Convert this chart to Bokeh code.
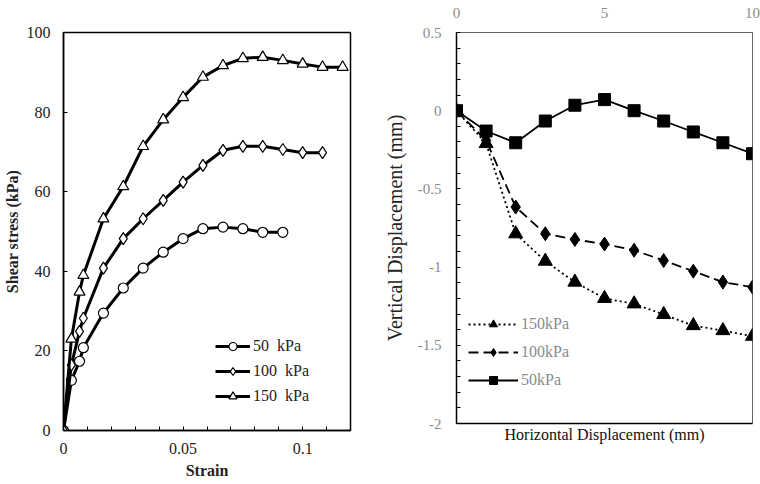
from bokeh.plotting import figure
from bokeh.layouts import row, column
from bokeh.models import (Range1d, FixedTicker, CustomJSTickFormatter, Legend,
                          LegendItem, LinearAxis)
from bokeh.embed import file_html
from bokeh.resources import INLINE

# ---------------- data: left chart (shear stress vs strain) ----------------
strain = [0, 0.0033, 0.0067, 0.0083, 0.0167, 0.025, 0.0333, 0.0417, 0.05,
          0.0583, 0.0667, 0.075, 0.0833, 0.0917, 0.1, 0.1083, 0.1167]
stress_150 = [0, 23.0, 34.8, 39.0, 53.2, 61.3, 71.4, 78.1, 83.7, 88.8, 91.7,
              93.5, 93.8, 93.0, 92.1, 91.3, 91.3]
stress_100 = [0, 16.5, 24.9, 28.2, 40.8, 48.2, 53.2, 57.8, 62.4, 66.6, 70.4,
              71.4, 71.4, 70.6, 69.8, 69.8]
stress_50 = [0, 12.6, 17.4, 20.8, 29.5, 35.8, 40.8, 44.8, 48.2, 50.7, 51.1,
             50.7, 49.8, 49.8]
left_labels = ["50  kPa", "100  kPa", "150  kPa"]
strain_ticks = [0, 0.05, 0.1]
strain_minor = [0.01, 0.02, 0.03, 0.04, 0.06, 0.07, 0.08, 0.09, 0.11]
stress_ticks = [0, 20, 40, 60, 80, 100]

# ---------------- data: right chart (vertical vs horizontal displacement) ----
hdisp = [0, 1, 2, 3, 4, 5, 6, 7, 8, 9, 10]
vd_50 = [0, -0.13, -0.205, -0.066, 0.035, 0.071, 0.0, -0.066, -0.136, -0.205, -0.275]
vd_100 = [0, -0.19, -0.616, -0.787, -0.823, -0.853, -0.892, -0.958, -1.026, -1.096, -1.128]
vd_150 = [0, -0.21, -0.787, -0.962, -1.096, -1.2, -1.235, -1.303, -1.374, -1.406, -1.442]
right_labels = ["150kPa", "100kPa", "50kPa"]
h_ticks = [0, 5, 10]
v_ticks = [0.5, 0, -0.5, -1, -1.5, -2]
v_minor = [0.4, 0.3, 0.2, 0.1, -0.1, -0.2, -0.3, -0.4, -0.6, -0.7, -0.8, -0.9,
           -1.1, -1.2, -1.3, -1.4, -1.6, -1.7, -1.8, -1.9]

FONT = "Liberation Serif"
GREY = "#8a8a8a"
H = 482
fmt = CustomJSTickFormatter(code="return String(Math.round(tick*1000)/1000);")

# ================= left figure =================
p1 = figure(width=380, height=H, output_backend="svg", toolbar_location=None,
            x_range=Range1d(0, 0.12), y_range=Range1d(0, 100),
            min_border_left=63, min_border_right=30, min_border_top=32,
            min_border_bottom=52)
p1.grid.visible = False
p1.outline_line_color = "black"
p1.outline_line_width = 1.5
p1.background_fill_color = "white"
p1.border_fill_color = "white"

xa = p1.xaxis[0]
xa.ticker = FixedTicker(ticks=strain_ticks, minor_ticks=strain_minor)
xa.formatter = fmt
xa.axis_label = "Strain"
ya = p1.yaxis[0]
ya.ticker = FixedTicker(ticks=stress_ticks)
ya.formatter = fmt
ya.axis_label = "Shear stress (kPa)"
for ax in (xa, ya):
    ax.axis_line_color = "black"
    ax.axis_line_width = 1.5
    ax.major_tick_in = 4
    ax.major_tick_out = 0
    ax.minor_tick_in = 4
    ax.minor_tick_out = 0
    ax.major_tick_line_color = "black"
    ax.minor_tick_line_color = "black"
    ax.major_label_text_font = FONT
    ax.major_label_text_font_size = "16px"
    ax.major_label_text_color = "#222222"
    ax.axis_label_text_font = FONT
    ax.axis_label_text_font_size = "16px"
    ax.axis_label_text_font_style = "bold"
    ax.axis_label_text_color = "#222222"
ya.minor_tick_line_color = None
xa.major_label_standoff = 12
xa.axis_label_standoff = 5
ya.major_label_standoff = 13
ya.axis_label_standoff = 3

items1 = []
series1 = [(strain[:len(stress_50)], stress_50, "circle", 10),
           (strain[:len(stress_100)], stress_100, "diamond", 12),
           (strain, stress_150, "triangle", 11)]
for (xs, ys, mk, sz), lab in zip(series1, left_labels):
    ln = p1.line(xs, ys, line_color="black", line_width=3)
    sc = p1.scatter(xs, ys, marker=mk, size=sz, fill_color="white",
                    line_color="black", line_width=1.2)
    items1.append(LegendItem(label=lab, renderers=[ln, sc]))

leg1 = Legend(items=items1, location=(152, 24), glyph_width=35, glyph_height=20,
              label_height=20, spacing=5, label_standoff=3, padding=0, margin=0,
              border_line_color=None, background_fill_alpha=0,
              label_text_font=FONT, label_text_font_size="16px",
              label_text_color="#222222")
p1.add_layout(leg1)

# ================= right figure =================
p2 = figure(width=380, height=H, output_backend="svg", toolbar_location=None,
            x_range=Range1d(0, 10), y_range=Range1d(-2, 0.5),
            x_axis_location="above",
            min_border_left=76, min_border_right=8, min_border_top=32,
            min_border_bottom=59)
p2.grid.visible = False
p2.outline_line_color = "#666666"
p2.outline_line_width = 1
p2.background_fill_color = "white"
p2.border_fill_color = "white"

ta = p2.xaxis[0]
ta.ticker = FixedTicker(ticks=h_ticks)
ta.formatter = fmt
ta.axis_line_color = "#666666"
ta.axis_line_width = 1
ta.major_tick_in = 0
ta.major_tick_out = 0
ta.minor_tick_line_color = None
ta.major_label_standoff = 15
ta.major_label_text_font = FONT
ta.major_label_text_font_size = "15px"
ta.major_label_text_color = GREY

ba = LinearAxis(ticker=FixedTicker(ticks=[]), axis_label="Horizontal Displacement (mm)")
ba.axis_line_color = "black"
ba.axis_line_width = 1.5
ba.major_tick_line_color = None
ba.minor_tick_line_color = None
ba.axis_label_standoff = 2
ba.axis_label_text_font = FONT
ba.axis_label_text_font_size = "16px"
ba.axis_label_text_font_style = "normal"
ba.axis_label_text_color = "#111111"
p2.add_layout(ba, "below")

va = p2.yaxis[0]
va.ticker = FixedTicker(ticks=v_ticks, minor_ticks=v_minor)
va.formatter = fmt
va.axis_line_color = "black"
va.axis_line_width = 1.5
va.major_tick_in = 4
va.major_tick_out = 0
va.minor_tick_in = 4
va.minor_tick_out = 0
va.major_tick_line_color = "black"
va.minor_tick_line_color = "black"
va.major_label_standoff = 15
va.major_label_text_font = FONT
va.major_label_text_font_size = "15px"
va.major_label_text_color = GREY
va.axis_label = "Vertical Displacement (mm)"
va.axis_label_standoff = 9
va.axis_label_text_font = FONT
va.axis_label_text_font_size = "20px"
va.axis_label_text_font_style = "normal"
va.axis_label_text_color = "#222222"

items2 = []
series2 = [(vd_150, "triangle", 14, "2 3"),
           (vd_100, "diamond", 14, "10 5"),
           (vd_50, "square", 12, "solid")]
for (ys, mk, sz, dash), lab in zip(series2, right_labels):
    ln = p2.line(hdisp, ys, line_color="black", line_width=1.8, line_dash=dash)
    sc = p2.scatter(hdisp, ys, marker=mk, size=sz, fill_color="black",
                    line_color="black")
    items2.append(LegendItem(label=lab, renderers=[ln, sc]))

leg2 = Legend(items=items2, location=(12, 33), glyph_width=50, glyph_height=20,
              label_height=20, spacing=8, label_standoff=3, padding=0, margin=0,
              border_line_color=None, background_fill_alpha=0,
              label_text_font=FONT, label_text_font_size="16px",
              label_text_color=GREY)
p2.add_layout(leg2)

layout = row(column(p1), column(p2))
open("out.html", "w").write(file_html(layout, INLINE))
